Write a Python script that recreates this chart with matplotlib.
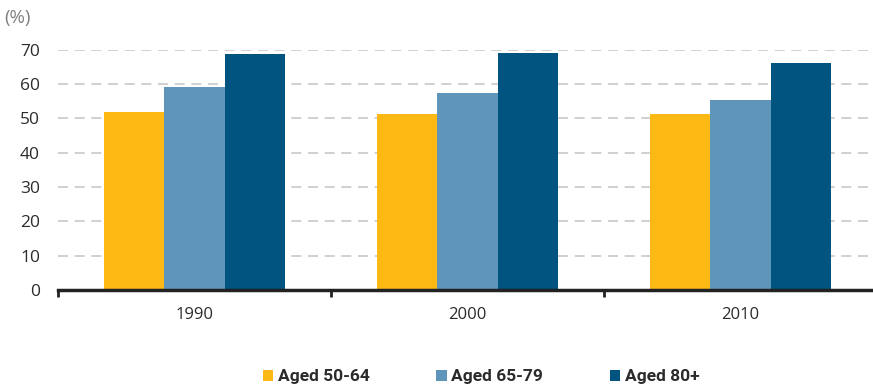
import matplotlib.pyplot as plt
import numpy as np
from matplotlib.patches import Patch

years = ["1990", "2000", "2010"]
series_names = ["Aged 50-64", "Aged 65-79", "Aged 80+"]
aged_50_64 = [51.8, 51.3, 51.3]
aged_65_79 = [59.1, 57.4, 55.3]
aged_80_plus = [68.8, 68.9, 66.0]
y_ticks = [0, 10, 20, 30, 40, 50, 60, 70]

colors = ["#FDB913", "#5F95BA", "#00547F"]
text_color = "#2b2b2b"

plt.rcParams["font.family"] = ["Open Sans", "DejaVu Sans"]

fig = plt.figure(figsize=(8.73, 3.87), dpi=100)
ax = fig.add_axes([58 / 873, 97 / 387, 819 / 873, 240.5 / 387])

x = np.arange(len(years))
bar_w = 0.222
for i, (vals, col) in enumerate(zip([aged_50_64, aged_65_79, aged_80_plus], colors)):
    ax.bar(x + (i - 1) * bar_w, vals, width=bar_w, color=col, edgecolor="none", zorder=3)

ax.set_xlim(-0.5, len(years) - 0.5)
ax.set_ylim(0, 70)
ax.set_yticks(y_ticks)
ax.set_yticklabels([str(t) for t in y_ticks], fontsize=12.5, color=text_color)
ax.tick_params(axis="y", length=0, pad=13)

ax.set_xticks(x)
ax.set_xticklabels(years, fontsize=12, color=text_color)
ax.set_xticks(np.arange(len(years) + 1) - 0.5, minor=True)
ax.tick_params(axis="x", which="major", length=0, pad=12)
ax.tick_params(axis="x", which="minor", length=5, width=2, color="#222222", direction="out")

ax.grid(axis="y", color="#c8c8c8", linestyle=(0, (6, 4)), linewidth=1.2, zorder=0)
for side in ["top", "right", "left"]:
    ax.spines[side].set_visible(False)
ax.spines["bottom"].set_linewidth(2.5)
ax.spines["bottom"].set_color("#222222")
ax.spines["bottom"].set_zorder(4)

fig.text(4 / 873, 1 - 18 / 387, "(%)", fontsize=13.5, color="#808080", va="center", ha="left")

handles = [Patch(facecolor=c, edgecolor="none") for c in colors]
fig.legend(
    handles, series_names, loc="center", bbox_to_anchor=(481 / 873, 1 - 377 / 387),
    ncol=3, frameon=False, handlelength=0.6, handleheight=0.6, handletextpad=0.25,
    columnspacing=3.85, borderaxespad=0,
    prop={"family": ["Roboto", "DejaVu Sans"], "weight": "bold", "size": 12.5},
    labelcolor=text_color,
)

fig.savefig("out.png", dpi=100)
